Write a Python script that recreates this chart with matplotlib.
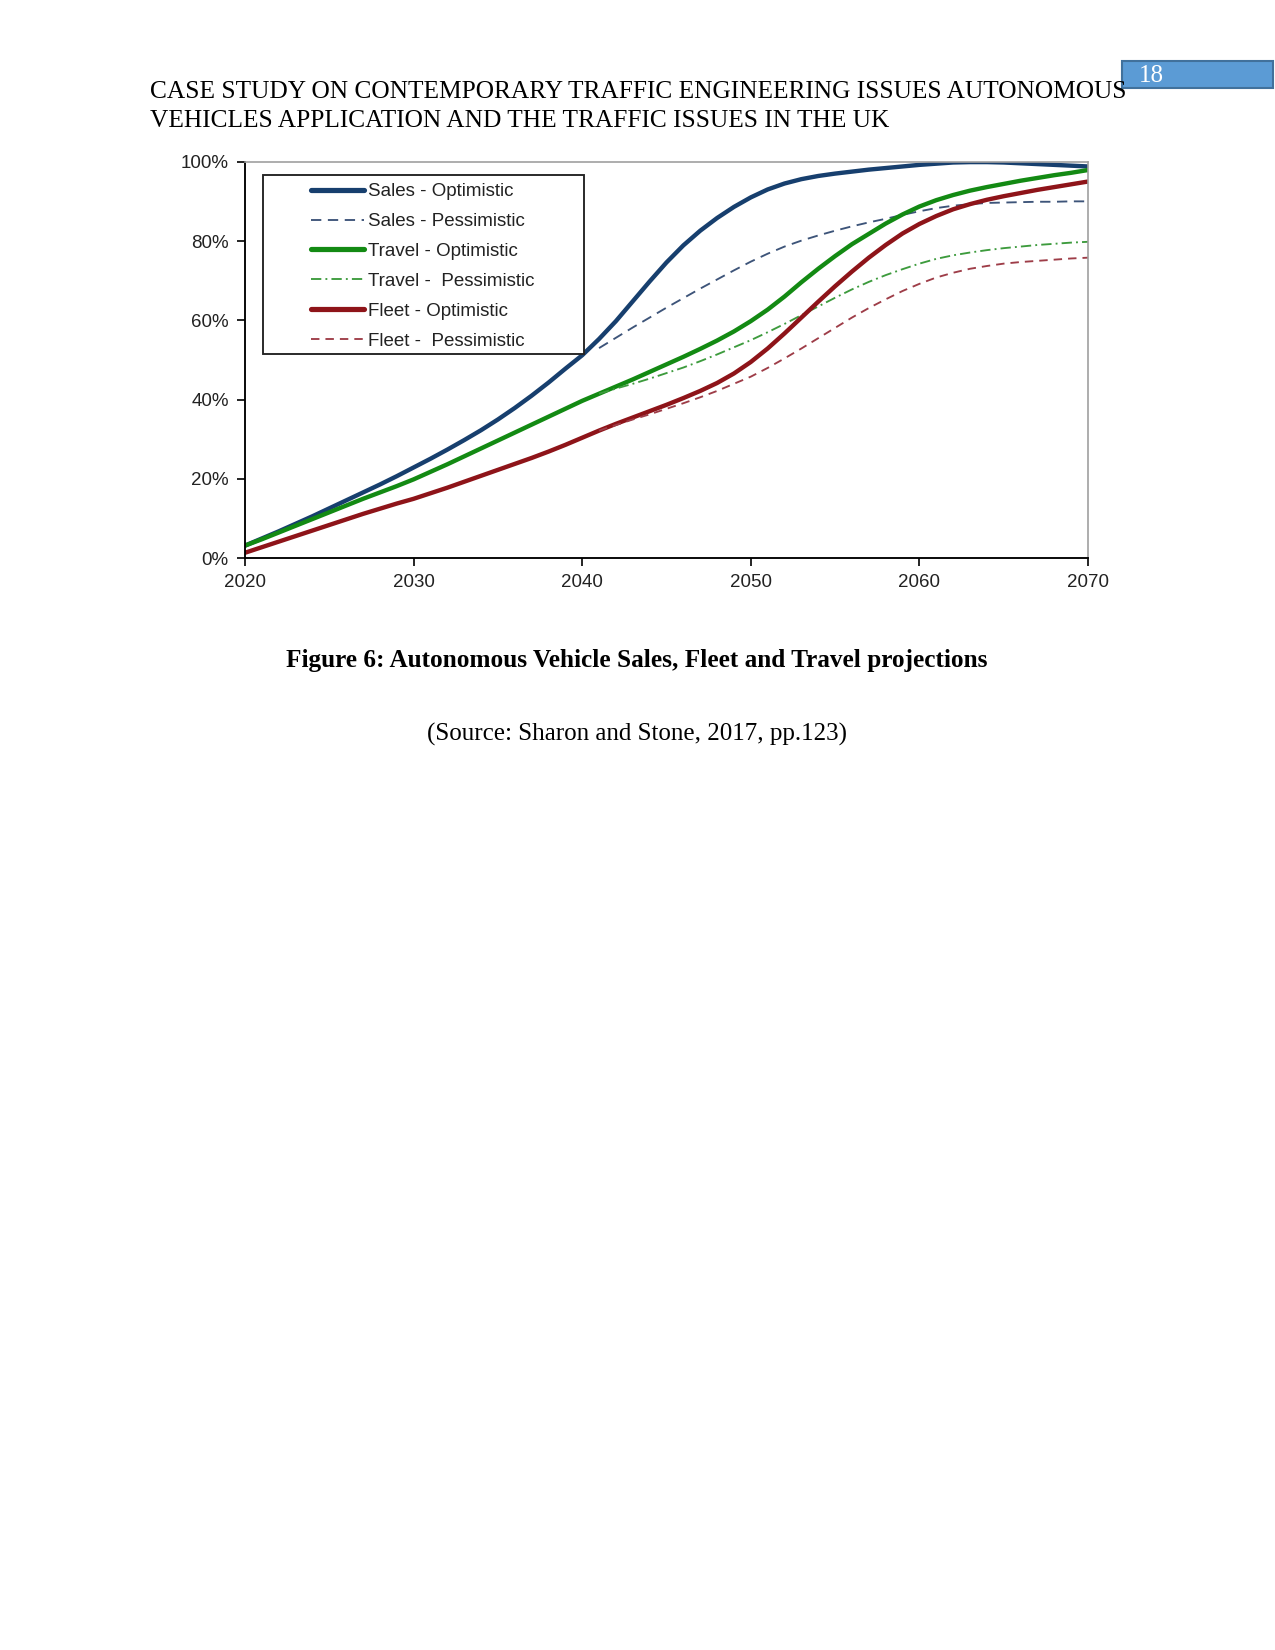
import matplotlib
matplotlib.use('Agg')
import matplotlib.pyplot as plt
from matplotlib.patches import Rectangle
from matplotlib.ticker import PercentFormatter

# values (share of AV, %), one per year
YEARS = list(range(2020, 2071))
SALES_OPT = [3.2, 5.0, 6.8, 8.7, 10.6, 12.6, 14.6, 16.6, 18.6, 20.7,
             22.9, 25.1, 27.4, 29.8, 32.3, 35.0, 37.9, 41.0, 44.3, 47.8,
             51.2, 55.3, 59.8, 64.8, 69.8, 74.6, 78.9, 82.6, 85.8, 88.6,
             91.0, 93.0, 94.5, 95.6, 96.4, 97.0, 97.5, 98.0, 98.4, 98.8,
             99.2, 99.5, 99.8, 99.9, 99.9, 99.8, 99.6, 99.4, 99.2, 99.0, 98.8]
TRAVEL_OPT = [3.2, 4.8, 6.5, 8.2, 9.9, 11.6, 13.3, 15.0, 16.6, 18.2,
              19.9, 21.8, 23.7, 25.7, 27.7, 29.7, 31.7, 33.7, 35.7, 37.7,
              39.7, 41.5, 43.3, 45.1, 47.0, 48.9, 50.8, 52.8, 54.9, 57.2,
              59.8, 62.7, 66.0, 69.6, 73.0, 76.2, 79.2, 81.8, 84.4, 86.7,
              88.7, 90.3, 91.6, 92.7, 93.6, 94.4, 95.2, 95.9, 96.6, 97.2, 97.9]
FLEET_OPT = [1.4, 2.8, 4.2, 5.6, 7.0, 8.4, 9.8, 11.2, 12.5, 13.8,
             15.0, 16.4, 17.8, 19.3, 20.8, 22.3, 23.8, 25.3, 26.9, 28.6,
             30.4, 32.2, 33.9, 35.5, 37.1, 38.7, 40.4, 42.2, 44.2, 46.6,
             49.5, 52.9, 56.7, 60.7, 64.7, 68.6, 72.3, 75.8, 79.0, 81.9,
             84.3, 86.3, 88.0, 89.3, 90.4, 91.3, 92.1, 92.9, 93.6, 94.3, 95.0]

PESS_YEARS = list(range(2041, 2071))
SALES_PESS = [53.0, 55.6, 58.2, 60.7, 63.2, 65.6, 68.0, 70.3, 72.6, 74.8,
              76.8, 78.6, 80.1, 81.4, 82.6, 83.7, 84.7, 85.6, 86.6, 87.5,
              88.3, 88.9, 89.3, 89.6, 89.7, 89.8, 89.9, 89.9, 90.0, 90.0]
TRAVEL_PESS = [41.5, 42.8, 44.0, 45.3, 46.7, 48.1, 49.7, 51.4, 53.2, 55.0,
               57.0, 59.1, 61.3, 63.5, 65.7, 67.8, 69.7, 71.4, 72.9, 74.3,
               75.5, 76.4, 77.1, 77.7, 78.2, 78.6, 79.0, 79.3, 79.6, 79.8]
FLEET_PESS = [32.2, 33.6, 35.0, 36.3, 37.7, 39.1, 40.6, 42.2, 44.0, 45.8,
              48.0, 50.4, 52.9, 55.5, 58.1, 60.7, 63.1, 65.3, 67.4, 69.2,
              70.8, 72.0, 73.0, 73.7, 74.3, 74.7, 75.0, 75.3, 75.6, 75.8]

X_TICKS = [2020, 2030, 2040, 2050, 2060, 2070]
Y_TICKS = [0, 20, 40, 60, 80, 100]

HEADER = ['CASE STUDY ON CONTEMPORARY TRAFFIC ENGINEERING ISSUES AUTONOMOUS',
          'VEHICLES APPLICATION AND THE TRAFFIC ISSUES IN THE UK']
PAGE_NO = '18'
CAPTION = 'Figure 6: Autonomous Vehicle Sales, Fleet and Travel projections'
SOURCE = '(Source: Sharon and Stone, 2017, pp.123)'

NAVY, GREEN, RED = '#173f6e', '#138a13', '#8e1419'
NAVY_L, GREEN_L, RED_L = '#3d5479', '#3d9b3d', '#9e3d48'

W, H = 1275, 1650
fig = plt.figure(figsize=(W / 150, H / 150), dpi=150)
serif = 'Liberation Serif'

# page header
fig.text(150 / W, 1 - 98 / H, HEADER[0], family=serif, fontsize=12.2, ha='left', va='baseline')
fig.text(150 / W, 1 - 127 / H, HEADER[1], family=serif, fontsize=12.2, ha='left', va='baseline')
fig.patches.append(Rectangle((1122 / W, 1 - 88 / H), 151 / W, 27 / H, transform=fig.transFigure,
                             facecolor='#5b9bd5', edgecolor='#41719c', lw=1.0))
fig.text(1139 / W, 1 - 75.5 / H, PAGE_NO, family=serif, fontsize=12, color='white',
         ha='left', va='center')

# chart
ax = fig.add_axes([245 / W, 1 - 558.3 / H, 843 / W, 396.6 / H])
ax.plot(YEARS, SALES_OPT, color=NAVY, lw=2.1, label='Sales - Optimistic', solid_capstyle='round')
ax.plot(PESS_YEARS, SALES_PESS, color=NAVY_L, lw=0.9, ls=(0, (5.5, 3.5)), label='Sales - Pessimistic')
ax.plot(YEARS, TRAVEL_OPT, color=GREEN, lw=2.1, label='Travel - Optimistic', solid_capstyle='round')
ax.plot(PESS_YEARS, TRAVEL_PESS, color=GREEN_L, lw=0.9, ls=(0, (5.5, 2.2, 1, 2.2)),
        label='Travel -  Pessimistic')
ax.plot(YEARS, FLEET_OPT, color=RED, lw=2.1, label='Fleet - Optimistic', solid_capstyle='round')
ax.plot(PESS_YEARS, FLEET_PESS, color=RED_L, lw=0.9, ls=(0, (4.5, 3.2)), label='Fleet -  Pessimistic')

ax.set_xlim(2020, 2070)
ax.set_ylim(0, 100)
ax.set_xticks(X_TICKS)
ax.set_yticks(Y_TICKS)
ax.yaxis.set_major_formatter(PercentFormatter(decimals=0))
for s in ['left', 'bottom']:
    ax.spines[s].set_color('black')
    ax.spines[s].set_linewidth(0.9)
for s in ['top', 'right']:
    ax.spines[s].set_color('#a0a0a0')
    ax.spines[s].set_linewidth(0.8)
ax.tick_params(direction='out', length=3.8, width=0.8, colors='black', labelcolor='#222222',
               labelsize=9, labelfontfamily='Liberation Sans')
ax.tick_params(axis='y', pad=4)
ax.tick_params(axis='x', pad=3.5)

# legend box drawn by hand so the handle inset matches
ax.add_patch(Rectangle((0.0215, 0.515), 0.381, 0.4515, transform=ax.transAxes,
                       facecolor='white', edgecolor='#222222', lw=0.9, zorder=3))
leg = ax.legend(loc='upper left', bbox_to_anchor=(0.078, 0.946), frameon=False, borderpad=0,
                borderaxespad=0, handlelength=2.85, handletextpad=0.2, labelspacing=0.68,
                prop={'family': 'Liberation Sans', 'size': 9})
leg.set_zorder(4)
for t in leg.get_texts():
    t.set_color('#222222')
for ln in leg.get_lines():
    if ln.get_linewidth() > 1.5:
        ln.set_linewidth(2.5)

# caption
fig.text(637 / W, 1 - 660 / H, CAPTION, family=serif, fontsize=12.15, weight='bold',
         ha='center', va='center')
fig.text(637 / W, 1 - 734 / H, SOURCE, family=serif, fontsize=12, ha='center', va='center')

fig.savefig('out.png', dpi=150, facecolor='white')
